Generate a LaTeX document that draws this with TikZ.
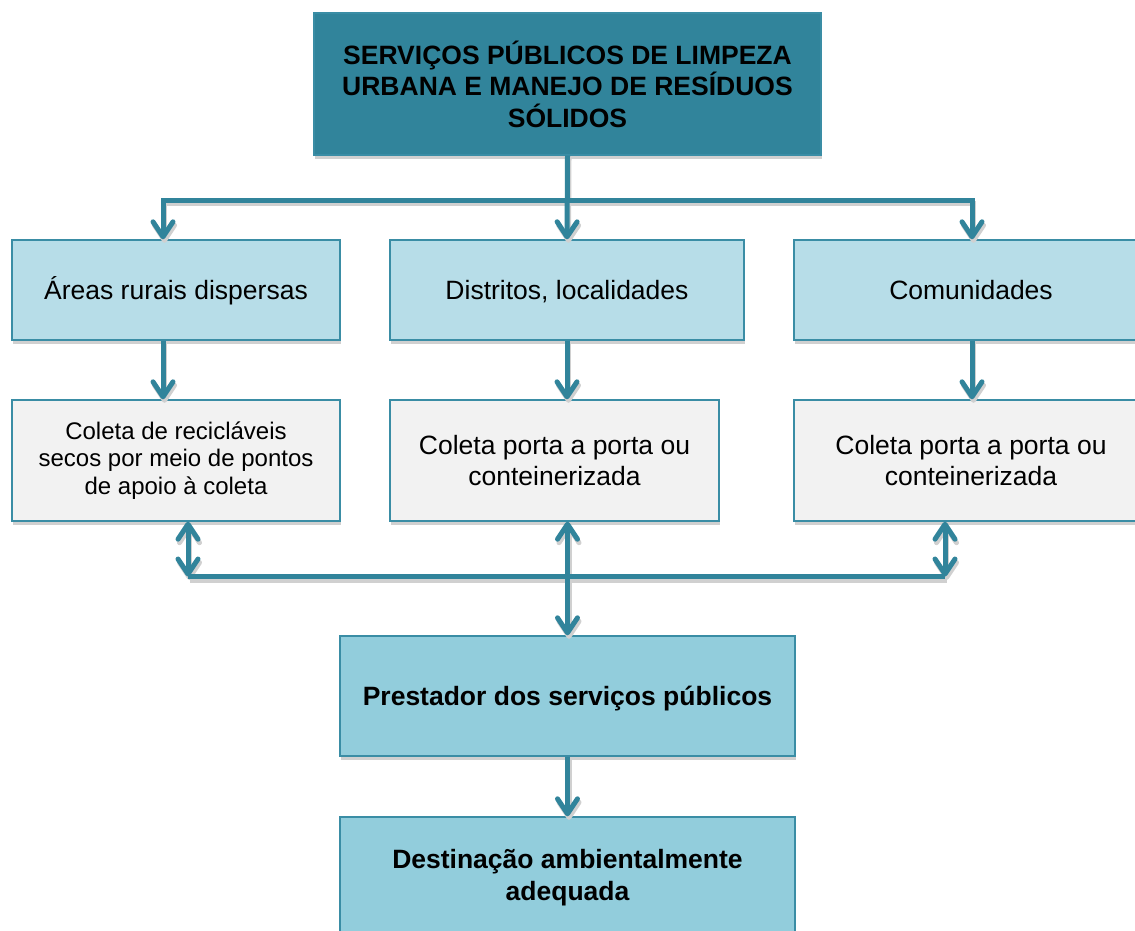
\documentclass[tikz,border=0pt]{standalone}
\usepackage{fontspec}
\setmainfont{Liberation Sans}
\usetikzlibrary{arrows.meta,shadows,calc}
\definecolor{tealA}{HTML}{31849B}
\definecolor{lblue}{HTML}{B7DDE8}
\definecolor{mblue}{HTML}{92CDDC}
\definecolor{lgray}{HTML}{F2F2F2}
\definecolor{bordc}{HTML}{3A8DA5}
\definecolor{shadc}{HTML}{D0D0D0}
\begin{document}
\begin{tikzpicture}[x=1pt,y=-1pt,
  box/.style={rectangle, draw=bordc, line width=1.4pt, align=center, inner sep=0pt,
    font=\fontsize{26.5pt}{31.5pt}\selectfont,
    drop shadow={shadow xshift=1pt, shadow yshift=-4pt, fill=shadc, opacity=1}},
  oneline/.style={text height=18pt, text depth=0pt},
  smalltext/.style={font=\fontsize{24pt}{27.5pt}\selectfont},
  boldtext/.style={font=\fontsize{26.5pt}{31.5pt}\selectfont\bfseries},
  conn/.style={draw=tealA, line width=5pt},
  arr/.style={conn, -{Straight Barb[length=15pt,width=20pt,round]}},
  darr/.style={conn, {Straight Barb[length=15pt,width=20pt,round]}-{Straight Barb[length=15pt,width=20pt,round]}}
]
\clip (0,0) rectangle (1135,930);
\useasboundingbox (0,0) rectangle (1135,930);

% nodes
\node[box, boldtext, fill=tealA, minimum width=507pt, minimum height=142pt] (top) at (567.5,84)
  {SERVIÇOS PÚBLICOS DE LIMPEZA\\URBANA E MANEJO DE RESÍDUOS\\SÓLIDOS};

\node[box, oneline, fill=lblue, minimum width=328pt, minimum height=100pt] (a1) at (176,290) {Áreas rurais dispersas};
\node[box, oneline, fill=lblue, minimum width=354pt, minimum height=100pt] (a2) at (567,290) {Distritos, localidades};
\node[box, oneline, fill=lblue, minimum width=354pt, minimum height=100pt] (a3) at (971,290) {Comunidades};

\node[box, smalltext, fill=lgray, minimum width=328pt, minimum height=121pt] (b1) at (176,460.5)
  {Coleta de recicláveis\\secos por meio de pontos\\de apoio à coleta};
\node[box, fill=lgray, minimum width=329pt, minimum height=121pt] (b2) at (554.5,460.5)
  {Coleta porta a porta ou\\conteinerizada};
\node[box, fill=lgray, minimum width=354pt, minimum height=121pt] (b3) at (971,460.5)
  {Coleta porta a porta ou\\conteinerizada};

\node[box, boldtext, oneline, fill=mblue, minimum width=455pt, minimum height=120pt] (p) at (567.5,696)
  {Prestador dos serviços públicos};
\node[box, boldtext, fill=mblue, minimum width=455pt, minimum height=121pt] (d) at (567.5,877.5)
  {Destinação ambientalmente\\adequada};

% junction coordinates
\coordinate (tm) at (567,200);
\coordinate (tl) at (163,200);
\coordinate (tr) at (972,200);
\coordinate (bl) at (188,576.5);
\coordinate (br) at (945,576.5);

\newcommand{\allconnectors}[1]{%
  \draw[arr,#1] (top.south) -- (a2.north);
  \draw[arr,#1] (tm) -- (tl) -- (tl |- a1.north);
  \draw[arr,#1] (tm) -- (tr) -- (tr |- a3.north);
  \draw[arr,#1] (tl |- a1.south) -- (tl |- b1.north);
  \draw[arr,#1] (a2.south) -- (a2.south |- b2.north);
  \draw[arr,#1] (tr |- a3.south) -- (tr |- b3.north);
  \draw[darr,#1] (bl |- b1.south) -- (bl);
  \draw[darr,#1] (br |- b3.south) -- (br);
  \draw[conn,#1] (bl) -- (br);
  \draw[darr,#1] (b2.south -| p.north) -- (p.north);
  \draw[arr,#1] (p.south) -- (d.north);
}

\begin{scope}[transform canvas={shift={(1.5pt,-3.5pt)}}]
  \allconnectors{draw=shadc}
\end{scope}
\allconnectors{}
\end{tikzpicture}
\end{document}
